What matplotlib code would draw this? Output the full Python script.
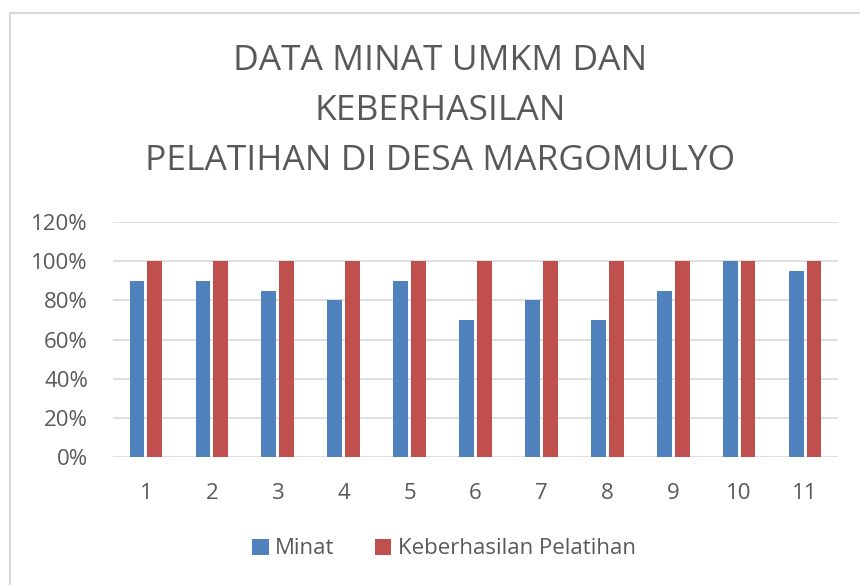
import matplotlib
matplotlib.use("Agg")
import matplotlib.pyplot as plt
import numpy as np
from matplotlib.patches import Rectangle
from matplotlib.ticker import PercentFormatter

plt.rcParams['font.family'] = ['Open Sans', 'DejaVu Sans']

categories = ['1', '2', '3', '4', '5', '6', '7', '8', '9', '10', '11']
minat = [0.90, 0.90, 0.85, 0.80, 0.90, 0.70, 0.80, 0.70, 0.85, 1.00, 0.95]
keberhasilan = [1.00, 1.00, 1.00, 1.00, 1.00, 1.00, 1.00, 1.00, 1.00, 1.00, 1.00]
title = 'DATA MINAT UMKM DAN\nKEBERHASILAN\nPELATIHAN DI DESA MARGOMULYO'

text_c = '#595959'
blue = '#4F81BD'
red = '#C0504D'

fig = plt.figure(figsize=(8.6, 5.85), dpi=100)
fig.patch.set_facecolor('white')

# chart frame
fig.patches.append(Rectangle((10/860, -0.1), 1.0, 1 - 13/585 + 0.1, transform=fig.transFigure,
                             fill=False, edgecolor='#D9D9D9', linewidth=1.5))

ax = fig.add_axes([113/860, 1 - 457/585, (838 - 113)/860, (457 - 222)/585])
x = np.arange(len(categories))
w = 0.225
ax.bar(x - 0.135, minat, w, color=blue, label='Minat', zorder=3)
ax.bar(x + 0.135, keberhasilan, w, color=red, label='Keberhasilan Pelatihan', zorder=3)

ax.set_xlim(-0.5, len(categories) - 0.5)
ax.set_ylim(0, 1.2)
ax.set_yticks(np.arange(0, 1.21, 0.2))
ax.yaxis.set_major_formatter(PercentFormatter(1.0, decimals=0))
ax.set_xticks(x)
ax.set_xticklabels(categories)
ax.grid(axis='y', color='#D9D9D9', linewidth=1.2, zorder=0)
for s in ax.spines.values():
    s.set_visible(False)
ax.tick_params(length=0, colors=text_c, labelsize=16)
ax.tick_params(axis='x', pad=19)
ax.tick_params(axis='y', pad=18)

fig.text(440/860, 1 - 111/585, title, ha='center', va='center', fontsize=25.5,
         color=text_c, linespacing=1.6)

fig.legend(loc='center', bbox_to_anchor=(444/860, 1 - 549/585), ncol=2, frameon=False,
           fontsize=16, labelcolor=text_c, handlelength=0.75, handleheight=0.75,
           handletextpad=0.3, columnspacing=1.8)

fig.savefig('out.png', dpi=100)
